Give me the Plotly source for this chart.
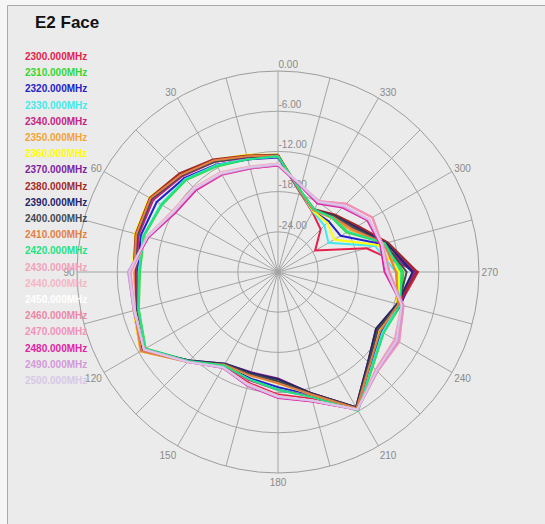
import plotly.graph_objects as go

W, H = 545, 524

angles = [0, 15, 30, 45, 60, 75, 90, 105, 120, 135, 150, 165,
          180, 195, 210, 225, 240, 255, 270, 285, 300, 315, 330, 345]

freqs = ["2300.000MHz", "2310.000MHz", "2320.000MHz", "2330.000MHz", "2340.000MHz",
         "2350.000MHz", "2360.000MHz", "2370.000MHz", "2380.000MHz", "2390.000MHz",
         "2400.000MHz", "2410.000MHz", "2420.000MHz", "2430.000MHz", "2440.000MHz",
         "2450.000MHz", "2460.000MHz", "2470.000MHz", "2480.000MHz", "2490.000MHz",
         "2500.000MHz"]

colors = ["#e5204c", "#33d633", "#2222c8", "#44eaea", "#c42482",
          "#f2a436", "#ffff00", "#7e22a0", "#a22a26", "#24246a",
          "#424a52", "#e28044", "#22e284", "#f2a2b8", "#f5b6c6",
          "#ffffff", "#ea88a8", "#f292ba", "#e222a2", "#d29ad8",
          "#d8c8e8"]

gain_2300 = [-12.7, -12.3, -11.0, -9.7, -8.3, -8.4, -8.8, -8.1, -6.9, -11.1, -13.7, -12.9,
             -11.7, -10.4, -6.2, -10.5, -12.6, -11.2, -9.1, -16.3, -23.6, -21.0, -19.7, -17.6]
gain_2310 = [-12.6, -12.6, -11.8, -10.6, -10.0, -9.3, -9.4, -8.5, -7.2, -11.3, -14.0, -13.5,
             -12.6, -10.8, -6.1, -10.0, -11.8, -11.0, -11.3, -13.4, -18.2, -18.6, -19.2, -17.3]
gain_2320 = [-12.9, -12.6, -11.5, -10.2, -9.1, -8.8, -9.0, -8.3, -7.0, -11.2, -14.0, -13.6,
             -12.8, -11.0, -6.3, -10.4, -12.2, -11.0, -9.9, -13.9, -19.2, -19.3, -19.5, -17.5]
gain_2330 = [-12.8, -12.5, -11.6, -10.4, -9.8, -9.2, -9.2, -8.4, -7.1, -11.2, -13.9, -13.4,
             -12.5, -10.8, -6.2, -10.2, -12.0, -11.3, -12.4, -15.0, -21.3, -20.2, -19.6, -17.5]
gain_2340 = [-12.7, -12.3, -11.0, -9.8, -8.5, -8.5, -8.8, -8.2, -7.0, -11.2, -13.9, -13.3,
             -12.4, -10.8, -6.3, -10.6, -12.8, -11.3, -9.6, -14.0, -17.0, -18.4, -19.4, -17.5]
gain_2350 = [-12.5, -12.0, -10.8, -9.4, -7.9, -8.0, -8.4, -7.7, -6.3, -11.0, -14.1, -14.1,
             -13.6, -11.2, -6.6, -10.8, -12.6, -11.6, -12.2, -13.5, -17.5, -18.6, -19.4, -17.4]
gain_2360 = [-12.5, -11.9, -10.7, -9.3, -7.8, -7.9, -8.3, -7.7, -6.4, -11.1, -14.0, -14.0,
             -13.4, -11.1, -6.5, -10.7, -12.5, -11.6, -11.9, -14.5, -20.3, -19.6, -19.5, -17.4]
gain_2370 = [-12.6, -12.2, -10.9, -9.5, -8.0, -8.2, -8.6, -7.9, -6.6, -11.3, -14.2, -14.5,
             -14.1, -11.3, -6.6, -10.9, -13.0, -11.5, -9.4, -13.2, -16.4, -18.0, -19.3, -17.5]
gain_2380 = [-12.5, -12.0, -10.6, -9.2, -7.9, -8.0, -8.4, -7.8, -6.5, -11.2, -14.1, -14.4,
             -14.0, -11.3, -6.7, -11.0, -13.1, -11.5, -9.2, -13.0, -16.2, -17.9, -19.2, -17.4]
gain_2390 = [-12.6, -12.2, -10.9, -9.6, -8.1, -8.2, -8.6, -8.0, -6.7, -11.3, -14.2, -14.4,
             -14.0, -11.3, -6.7, -11.0, -13.1, -11.6, -9.9, -13.3, -16.6, -18.1, -19.3, -17.5]
gain_2400 = [-12.6, -12.2, -11.0, -9.6, -8.2, -8.3, -8.7, -8.0, -6.8, -11.2, -14.1, -14.2,
             -13.7, -11.2, -6.6, -10.8, -12.8, -11.4, -10.8, -13.5, -16.8, -18.2, -19.3, -17.5]
gain_2410 = [-12.6, -12.1, -10.8, -9.5, -8.0, -8.1, -8.5, -7.8, -6.4, -11.0, -14.0, -14.0,
             -13.4, -11.1, -6.5, -10.6, -12.4, -11.4, -12.4, -13.6, -17.2, -18.4, -19.4, -17.5]
gain_2420 = [-12.7, -12.6, -11.7, -10.5, -9.9, -9.2, -9.3, -8.4, -7.1, -11.2, -13.9, -13.4,
             -12.4, -10.7, -6.1, -10.1, -11.8, -11.1, -11.6, -13.5, -18.0, -18.5, -19.2, -17.3]
gain_2430 = [-13.8, -13.7, -12.8, -12.2, -11.8, -9.7, -8.3, -7.9, -6.9, -11.0, -13.6, -12.7,
             -11.5, -10.2, -6.3, -9.4, -9.9, -10.9, -13.3, -13.8, -14.2, -16.0, -17.9, -16.6]
gain_2440 = [-13.9, -13.8, -12.9, -12.3, -11.9, -9.7, -8.2, -7.9, -6.9, -11.0, -13.6, -12.7,
             -11.5, -10.1, -6.3, -9.2, -9.6, -10.8, -13.4, -13.9, -14.0, -15.8, -17.8, -16.6]
gain_2450 = [-14.0, -13.9, -13.0, -12.4, -12.0, -9.8, -8.1, -7.8, -6.9, -11.0, -13.5, -12.6,
             -11.4, -10.1, -6.3, -9.1, -9.4, -10.7, -13.5, -13.9, -13.9, -15.7, -17.8, -16.6]
gain_2460 = [-14.0, -14.0, -13.2, -12.6, -12.2, -9.8, -8.0, -7.8, -6.9, -11.0, -13.5, -12.6,
             -11.4, -10.0, -6.3, -9.0, -9.2, -10.6, -13.4, -13.9, -13.7, -15.6, -17.8, -16.6]
gain_2470 = [-14.1, -14.0, -13.3, -12.7, -12.3, -9.9, -8.0, -7.8, -6.9, -11.0, -13.5, -12.5,
             -11.3, -10.0, -6.3, -9.0, -9.1, -10.6, -13.6, -13.9, -13.8, -15.6, -17.8, -16.6]
gain_2480 = [-14.1, -14.0, -13.2, -12.7, -12.3, -10.0, -7.7, -7.7, -6.9, -11.0, -13.5, -12.4,
             -11.2, -10.0, -6.3, -9.2, -9.6, -10.8, -14.1, -14.2, -14.6, -16.4, -18.2, -16.8]
gain_2490 = [-14.0, -13.9, -13.1, -12.5, -12.1, -9.8, -7.6, -7.7, -6.9, -11.0, -13.5, -12.5,
             -11.3, -10.1, -6.3, -9.1, -9.4, -10.8, -13.8, -14.0, -14.4, -16.2, -18.0, -16.7]
gain_2500 = [-13.9, -13.8, -13.0, -12.4, -12.0, -9.8, -7.8, -7.8, -6.9, -11.0, -13.6, -12.6,
             -11.4, -10.1, -6.3, -9.2, -9.6, -10.9, -13.7, -14.0, -14.3, -16.0, -17.9, -16.6]

series = [gain_2300, gain_2310, gain_2320, gain_2330, gain_2340, gain_2350, gain_2360,
          gain_2370, gain_2380, gain_2390, gain_2400, gain_2410, gain_2420, gain_2430,
          gain_2440, gain_2450, gain_2460, gain_2470, gain_2480, gain_2490, gain_2500]

radial_ticks = [-24, -18, -12, -6, 0]
radial_labels = ["-24.00", "-18.00", "-12.00", "-6.00", "0.00"]
angle_grid = list(range(0, 360, 15))
angle_labels = ["" if (a % 30 or a == 0) else str(a) for a in angle_grid]

fig = go.Figure()
for name, color, vals in zip(freqs, colors, series):
    fig.add_trace(go.Scatterpolar(
        r=vals + [vals[0]], theta=angles + [angles[0] + 360],
        mode="lines", line=dict(color=color, width=2),
        name=name, showlegend=False, hoverinfo="skip"))

# frame
fig.add_shape(type="rect", xref="paper", yref="paper",
              x0=7.5 / W, x1=1.01, y0=-0.01, y1=1 - 5.5 / H,
              fillcolor="#ebebeb", line=dict(color="#a9a9a9", width=1), layer="below")

# legend as coloured text
for i, (name, color) in enumerate(zip(freqs, colors)):
    fig.add_annotation(text="<b>" + name + "</b>", x=23 / W, y=1 - (56.5 + 16.2 * i) / H,
                       xref="paper", yref="paper", xanchor="left", yanchor="middle",
                       showarrow=False,
                       font=dict(family="Liberation Sans, Arial", size=10, color=color))

fig.update_layout(
    width=W, height=H,
    margin=dict(l=0, r=0, t=0, b=0),
    paper_bgcolor="#f6f6f6",
    plot_bgcolor="#ebebeb",
    showlegend=False,
    title=dict(text="<b>E2 Face</b>", x=35 / W, xanchor="left", y=1 - 22 / H, yanchor="middle",
               font=dict(family="Liberation Sans, Arial", size=17, color="#111111")),
    polar=dict(
        domain=dict(x=[77 / W, 479 / W], y=[1 - 473 / H, 1 - 71 / H]),
        bgcolor="rgba(0,0,0,0)",
        angularaxis=dict(
            rotation=90, direction="counterclockwise",
            tickmode="array", tickvals=angle_grid, ticktext=angle_labels,
            ticks="", showline=True, linecolor="#9c9c9c", linewidth=1,
            gridcolor="#a4a4a4", gridwidth=1, layer="below traces",
            tickfont=dict(family="Liberation Sans, Arial", size=10, color="#8a8a8a")),
        radialaxis=dict(
            range=[-30, 0], angle=90, tickangle=90,
            tickmode="array", tickvals=radial_ticks,
            ticktext=[lab + "<br> " for lab in radial_labels],
            showline=False, ticks="", gridcolor="#a4a4a4", gridwidth=1,
            side="clockwise", layer="below traces",
            tickfont=dict(family="Liberation Sans, Arial", size=10, color="#8a8a8a")),
    ),
)

fig.write_html("out.html",
               config={"displayModeBar": False},
               post_script="document.body.style.margin='0';"
                           "document.body.style.padding='0';"
                           "document.body.style.overflow='hidden';")
